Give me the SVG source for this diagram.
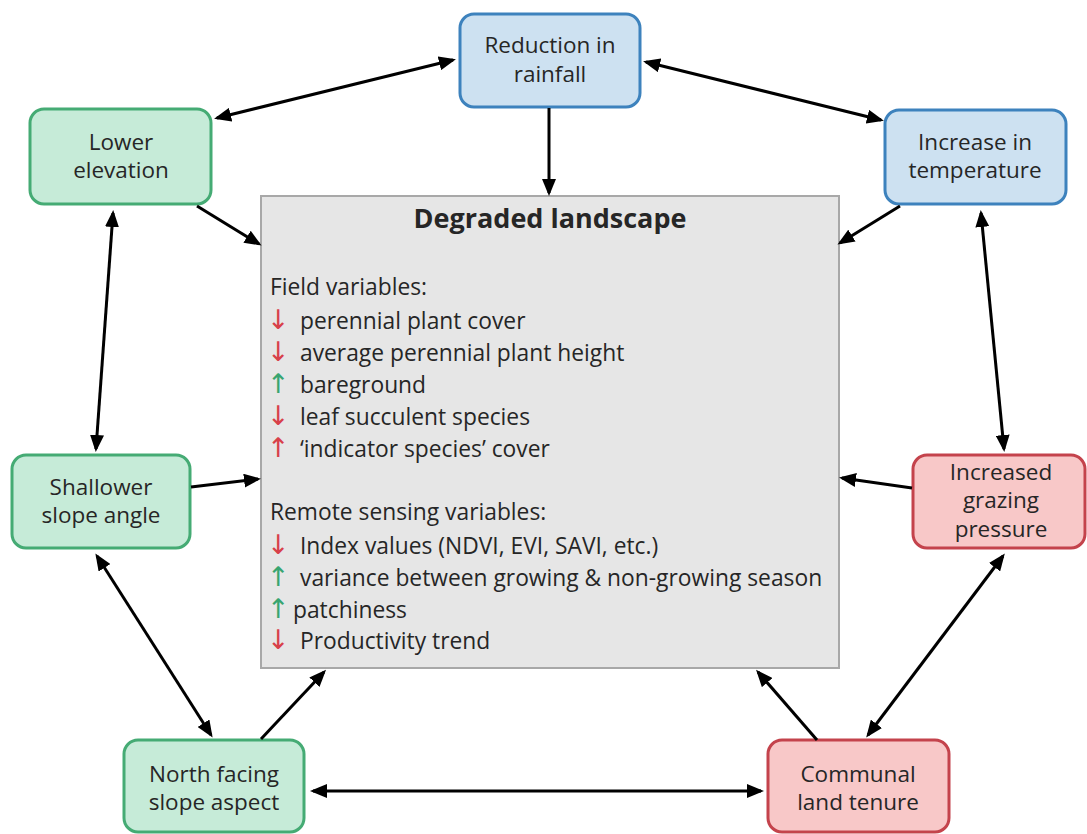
<svg xmlns="http://www.w3.org/2000/svg" width="1087" height="834" viewBox="0 0 1087 834">
<defs>
<style>
.g rect{fill:#c6ebd8;stroke:#45ab74;stroke-width:3}
.b rect{fill:#cde1f1;stroke:#3d82bd;stroke-width:3}
.r rect{fill:#f8c8c8;stroke:#c4434c;stroke-width:3}
.node text{font-family:"Open Sans","Liberation Sans",sans-serif;font-size:22.5px;fill:#262626;text-anchor:middle}
.main rect{fill:#e6e6e6;stroke:#a8a8a8;stroke-width:2}
.main text{font-family:"Open Sans","Liberation Sans",sans-serif;font-size:22.8px;fill:#262626}
.main .title{font-size:27px;font-weight:bold;text-anchor:middle}
.dn,.up,.upr{font-family:"DejaVu Sans",sans-serif;font-size:27px}
.dn,.upr{fill:#d8404a}
.up{fill:#38a570}
#connectors line{stroke:#000;stroke-width:3;fill:none}
.one{marker-end:url(#ah)}
.two{marker-end:url(#ah);marker-start:url(#ah)}
</style>
<marker id="ah" markerUnits="userSpaceOnUse" markerWidth="18" markerHeight="14" refX="14" refY="7" orient="auto-start-reverse" viewBox="0 0 18 14">
<path d="M0,0 L17,7 L0,14 z" fill="#000"/>
</marker>
</defs>
<rect width="1087" height="834" fill="#fff"/>

<g id="degraded-landscape" class="main">
<rect x="261" y="196" width="578" height="472"/>
<text class="title" x="550" y="228">Degraded landscape</text>
<text x="270" y="295">Field variables:</text>
<text y="329"><tspan class="dn" x="267">↓</tspan><tspan x="300">perennial plant cover</tspan></text>
<text y="361"><tspan class="dn" x="267">↓</tspan><tspan x="300">average perennial plant height</tspan></text>
<text y="393"><tspan class="up" x="267">↑</tspan><tspan x="300">bareground</tspan></text>
<text y="425"><tspan class="dn" x="267">↓</tspan><tspan x="300">leaf succulent species</tspan></text>
<text y="457"><tspan class="upr" x="267">↑</tspan><tspan x="300">‘indicator species’ cover</tspan></text>
<text x="270" y="520">Remote sensing variables:</text>
<text y="554"><tspan class="dn" x="267">↓</tspan><tspan x="300">Index values (NDVI, EVI, SAVI, etc.)</tspan></text>
<text y="586"><tspan class="up" x="267">↑</tspan><tspan x="300">variance between growing &amp; non-growing season</tspan></text>
<text y="618"><tspan class="up" x="267">↑</tspan><tspan x="293">patchiness</tspan></text>
<text y="649"><tspan class="dn" x="267">↓</tspan><tspan x="300">Productivity trend</tspan></text>
</g>

<g id="reduction-in-rainfall" class="node b">
<rect x="460" y="14" width="180" height="93" rx="14"/>
<text x="550" y="53">Reduction in</text>
<text x="550" y="82">rainfall</text>
</g>
<g id="lower-elevation" class="node g">
<rect x="30" y="109" width="181" height="95" rx="14"/>
<text x="121" y="150">Lower</text>
<text x="121" y="178">elevation</text>
</g>
<g id="increase-in-temperature" class="node b">
<rect x="885" y="110" width="181" height="94" rx="14"/>
<text x="975" y="150">Increase in</text>
<text x="975" y="178">temperature</text>
</g>
<g id="shallower-slope-angle" class="node g">
<rect x="12" y="455" width="178" height="93" rx="14"/>
<text x="101" y="495">Shallower</text>
<text x="101" y="523">slope angle</text>
</g>
<g id="increased-grazing-pressure" class="node r">
<rect x="913" y="455" width="172" height="93" rx="14"/>
<text x="1001" y="480">Increased</text>
<text x="1001" y="508">grazing</text>
<text x="1001" y="537">pressure</text>
</g>
<g id="north-facing-slope-aspect" class="node g">
<rect x="124" y="740" width="180" height="92" rx="14"/>
<text x="214" y="782">North facing</text>
<text x="214" y="810">slope aspect</text>
</g>
<g id="communal-land-tenure" class="node r">
<rect x="768" y="740" width="181" height="92" rx="14"/>
<text x="858" y="782">Communal</text>
<text x="858" y="810">land tenure</text>
</g>

<g id="connectors">
<line class="two" x1="217" y1="118" x2="453" y2="60"/>
<line class="two" x1="646" y1="62" x2="881" y2="120"/>
<line class="one" x1="549" y1="108" x2="549" y2="193"/>
<line class="one" x1="197" y1="206" x2="259" y2="244"/>
<line class="one" x1="900" y1="206" x2="840" y2="243"/>
<line class="two" x1="113" y1="213" x2="96" y2="449"/>
<line class="two" x1="981" y1="213" x2="1004" y2="449"/>
<line class="one" x1="191" y1="487" x2="258" y2="479"/>
<line class="one" x1="912" y1="488" x2="842" y2="478"/>
<line class="two" x1="97" y1="556" x2="211" y2="735"/>
<line class="one" x1="261" y1="739" x2="324" y2="672"/>
<line class="two" x1="313" y1="791" x2="761" y2="791"/>
<line class="one" x1="817" y1="740" x2="758" y2="672"/>
<line class="two" x1="1003" y1="556" x2="868" y2="735"/>
</g>
</svg>
